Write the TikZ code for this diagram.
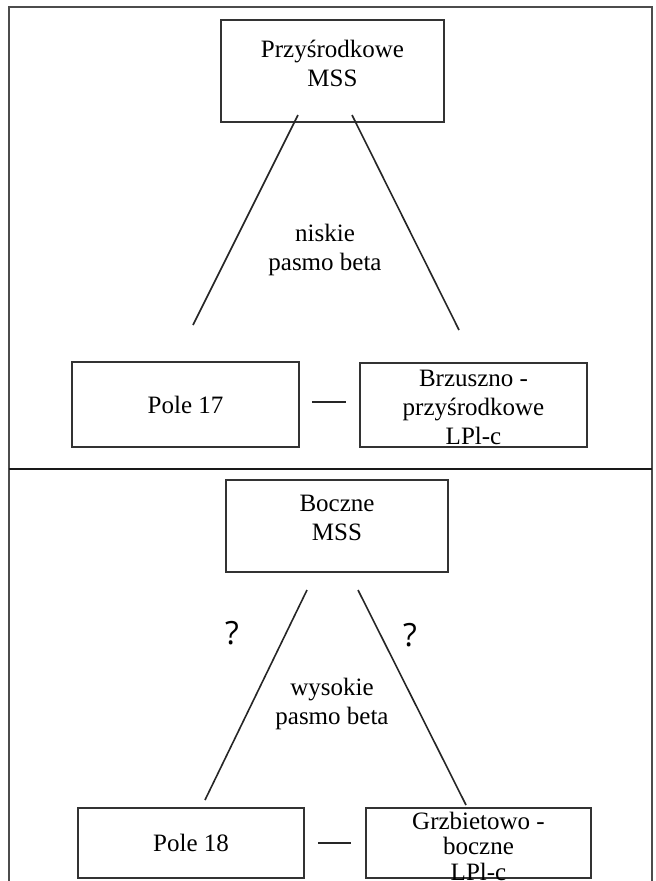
\documentclass[tikz,border=0pt]{standalone}
\usepackage{fontspec}
\setmainfont{Liberation Serif}
\newfontfamily\qfont{Open Sans}
\begin{document}
\begin{tikzpicture}[x=1pt,y=-1pt,
  box/.style={draw=black!80, line width=1.5pt, inner sep=0pt},
  lbl/.style={align=center, inner sep=0pt, font=\fontsize{25}{29}\selectfont},
  qmark/.style={inner sep=0pt, font=\qfont\fontsize{32}{34}\selectfont},
  link/.style={line width=1.6pt, draw=black!85},
  framel/.style={line width=2pt, draw=black!70},
  divider/.style={line width=2.5pt, draw=black!90}]
\useasboundingbox (0,0) rectangle (656,881);
% frame
\coordinate (fbl) at (8.5,881);
\coordinate (ftl) at (8.5,7);
\coordinate (ftr) at (652,7);
\coordinate (fbr) at (652,881);
\draw[framel] (fbl) -- (ftl) -- (ftr) -- (fbr);
\coordinate (dl) at (8.5,469);
\coordinate (dr) at (652,469);
\draw[divider] (dl) -- (dr);

% ---- upper panel
\node[box, minimum width=223, minimum height=102] (mss1) at (332.5,71) {};
\node[lbl] (mss1t) at (332.5,63) {Przyśrodkowe\\MSS};
\node[lbl] (low) at (325,250) {niskie\\pasmo beta};
\node[box, minimum width=227, minimum height=85] (p17) at (185.5,404.5) {};
\node[lbl] (p17t) at (p17.center) {Pole 17};
\node[box, minimum width=227, minimum height=84] (lpl1) at (473.5,405) {};
\node[lbl] (lpl1t) at (473.5,407) {Brzuszno -\\przyśrodkowe\\LPl-c};
\coordinate (a1) at (298,115);
\coordinate (a2) at (193,325);
\coordinate (b1) at (352,115);
\coordinate (b2) at (459,330);
\draw[link] (a1) -- (a2);
\draw[link] (b1) -- (b2);
\draw[link, shorten <=12pt, shorten >=13pt] (p17.east |- 0,402) -- (lpl1.west |- 0,402);

% ---- lower panel
\node[box, minimum width=222, minimum height=92] (mss2) at (337,526) {};
\node[lbl] (mss2t) at (337,518) {Boczne\\MSS};
\node[lbl] (high) at (332,704) {wysokie\\pasmo beta};
\node[qmark] (q1) at (232,633) {?};
\node[qmark] (q2) at (410,635) {?};
\node[box, minimum width=226, minimum height=70] (p18) at (191,843) {};
\node[lbl] (p18t) at (p18.center) {Pole 18};
\node[box, minimum width=225, minimum height=70] (lpl2) at (478.5,843) {};
\node[lbl, font=\fontsize{25}{25.5}\selectfont] (lpl2t) at (478.5,846) {Grzbietowo -\\boczne\\LPl-c};
\coordinate (c1) at (307,590);
\coordinate (c2) at (205,800);
\coordinate (d1) at (358,590);
\coordinate (d2) at (466,805);
\draw[link] (c1) -- (c2);
\draw[link] (d1) -- (d2);
\draw[link, shorten <=13pt, shorten >=14pt] (p18.east |- 0,843) -- (lpl2.west |- 0,843);
\end{tikzpicture}
\end{document}
